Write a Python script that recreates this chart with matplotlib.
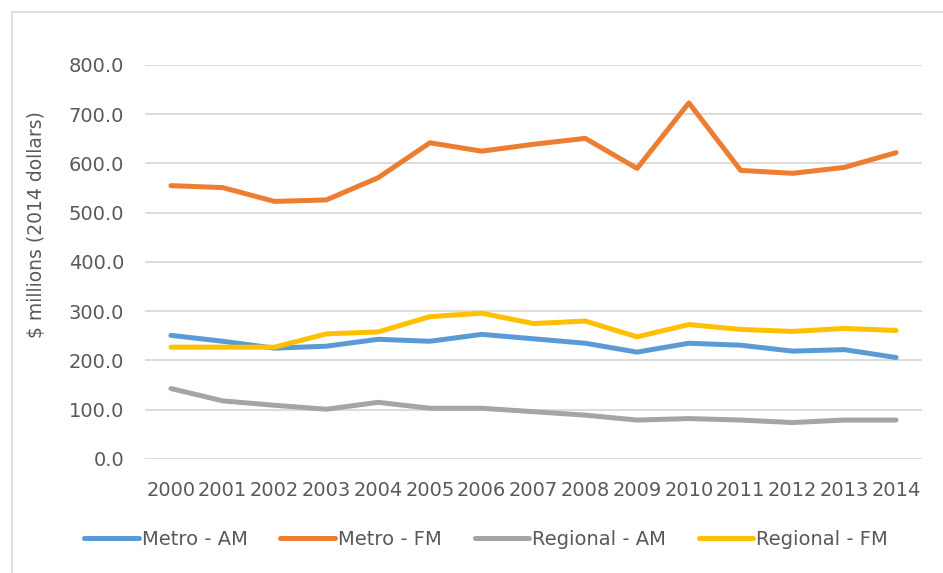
import numpy as np
import matplotlib
matplotlib.use('Agg')
import matplotlib.pyplot as plt
from matplotlib.patches import Rectangle

plt.rcParams['font.family'] = ['DejaVu Sans']

years = ['2000', '2001', '2002', '2003', '2004', '2005', '2006', '2007',
         '2008', '2009', '2010', '2011', '2012', '2013', '2014']
metro_am = [251, 239, 225, 229, 243, 239, 253, 244, 235, 217, 235, 231, 219, 222, 206]
metro_fm = [555, 551, 523, 526, 571, 642, 625, 639, 651, 590, 723, 586, 580, 592, 622]
regional_am = [143, 118, 109, 101, 115, 103, 103, 96, 89, 79, 82, 79, 74, 79, 79]
regional_fm = [227, 227, 227, 254, 258, 289, 296, 275, 280, 248, 273, 263, 259, 265, 261]

series = [
    ('Metro - AM', metro_am, '#5B9BD5'),
    ('Metro - FM', metro_fm, '#ED7D31'),
    ('Regional - AM', regional_am, '#A5A5A5'),
    ('Regional - FM', regional_fm, '#FFC000'),
]

fig = plt.figure(figsize=(9.43, 5.73), dpi=100)
ax = fig.add_axes([0.1538, 0.199, 0.8239, 0.6876])

# light chart-area frame
fig.patches.append(Rectangle((12 / 943, -0.1), 1.2, 1.1 - 12 / 573,
                             transform=fig.transFigure, fill=False,
                             edgecolor='#D9D9D9', linewidth=1.2))

x = np.arange(len(years))
for name, vals, col in series:
    ax.plot(x, vals, color=col, linewidth=3.6, label=name,
            solid_capstyle='round', solid_joinstyle='round')

ax.set_xlim(-0.5, len(years) - 0.5)
ax.set_ylim(0, 800)
ax.set_yticks(np.arange(0, 801, 100))
ax.set_yticklabels(['%.1f' % v for v in np.arange(0, 801, 100)])
ax.set_xticks(x)
ax.set_xticklabels(years)

ax.grid(axis='y', color='#D9D9D9', linewidth=1.3)
ax.set_axisbelow(True)
for s in ax.spines.values():
    s.set_visible(False)
ax.tick_params(length=0, colors='#595959', labelsize=14)
ax.tick_params(axis='y', pad=15)
ax.tick_params(axis='x', pad=16)

ax.set_ylabel('$ millions (2014 dollars)', fontsize=13.5, color='#595959')
ax.yaxis.set_label_coords(-0.128, 0.596)

ax.legend(loc='center', bbox_to_anchor=(0.439, -0.205), ncol=4, frameon=False,
          fontsize=14, labelcolor='#595959', handlelength=2.8, handletextpad=0.15,
          columnspacing=1.7)

plt.savefig('out.png', dpi=100)
